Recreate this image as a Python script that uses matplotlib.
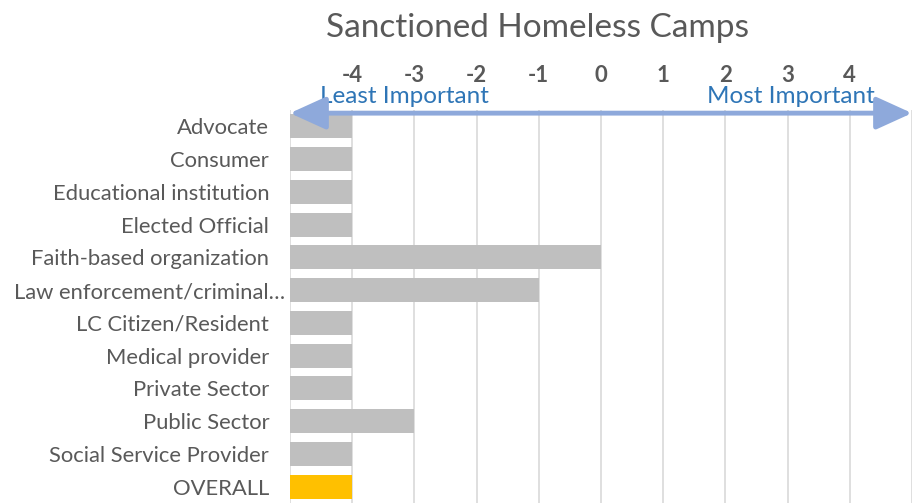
import matplotlib
matplotlib.use("Agg")
import matplotlib.pyplot as plt
from matplotlib.transforms import ScaledTranslation

categories = ["Advocate", "Consumer", "Educational institution", "Elected Official",
              "Faith-based organization", "Law enforcement/criminal\u2026",
              "LC Citizen/Resident", "Medical provider", "Private Sector",
              "Public Sector", "Social Service Provider", "OVERALL"]
values = [-4, -4, -4, -4, 0, -1, -4, -4, -4, -3, -4, -4]
base = -5
xticks = [-4, -3, -2, -1, 0, 1, 2, 3, 4]
title = "Sanctioned Homeless Camps"

plt.rcParams['font.family'] = ['Lato', 'DejaVu Sans']
fig = plt.figure(figsize=(9.16, 5.03), dpi=100)
ax = fig.add_axes([290/916, 0.0, (912-290)/916, 1-110/503])

colors = ["#BFBFBF"] * (len(categories) - 1) + ["#FFC000"]
y = list(range(len(categories)))
widths = [v - base for v in values]
ax.barh(y, widths, left=base, height=0.73, color=colors, zorder=2)

ax.set_xlim(-5, 5)
ax.set_ylim(len(categories) - 0.5, -0.5)
for gx in range(-5, 6):
    ax.axvline(gx, color="#D9D9D9", lw=1.2, zorder=1)

ax.xaxis.tick_top()
ax.set_xticks(xticks)
ax.set_xticklabels([str(t) for t in xticks], fontsize=16, fontweight='bold', color="#595959")
ax.tick_params(axis='x', length=0, pad=17)
ax.set_yticks(y)
ax.set_yticklabels(categories, fontsize=15.8, color="#595959")
ax.tick_params(axis='y', length=0, pad=15)
for s in ax.spines.values():
    s.set_visible(False)

lbls = ax.get_yticklabels()
lbls[5].set_transform(lbls[5].get_transform() + ScaledTranslation(16/100, 0, fig.dpi_scale_trans))

# arrow
ax.annotate("", xy=(5, 0.992), xytext=(-5, 0.992),
            xycoords=('data', 'axes fraction'), textcoords=('data', 'axes fraction'),
            arrowprops=dict(arrowstyle='<|-|>,head_length=2.2,head_width=1.0',
                            color="#8EA9DB", lw=3.5, shrinkA=0, shrinkB=0),
            annotation_clip=False, zorder=5)
ax.text(-4.52, 1.034, "Least Important", transform=ax.get_xaxis_transform(),
        fontsize=17.5, color="#2E75B6", ha='left', va='center', clip_on=False)
ax.text(4.4, 1.034, "Most Important", transform=ax.get_xaxis_transform(),
        fontsize=17.5, color="#2E75B6", ha='right', va='center', clip_on=False)

fig.text(537/916, 1-28/503, title, fontsize=24, color="#595959", ha='center', va='center')

fig.savefig("out.png", dpi=100)
